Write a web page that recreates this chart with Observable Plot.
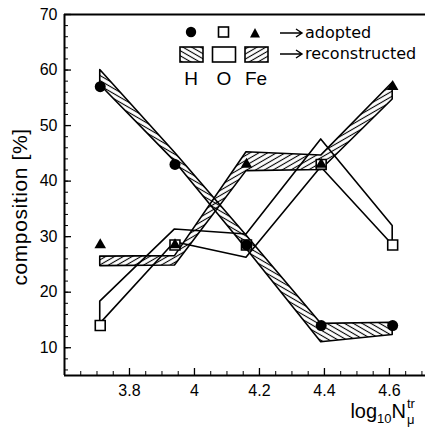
<!DOCTYPE html>
<html>
<head>
<meta charset="utf-8">
<script src="https://cdn.jsdelivr.net/npm/d3@7"></script>
<script src="https://cdn.jsdelivr.net/npm/@observablehq/plot@0.6"></script>
<style>
  body { margin: 0; background: #fff; }
  #chart { position: relative; width: 425px; height: 428px; }
  #chart > svg { position: absolute; left: 0; top: 0; }
</style>
</head>
<body>
<div id="chart"></div>
<script>
// log10 of the truncated muon number, bin centres
const lgN = [3.71, 3.94, 4.16, 4.39, 4.61];

// adopted composition [%]
const adoptedH  = [57, 43, 28.5, 14, 14];
const adoptedO  = [14, 28.5, 28.5, 43, 28.5];
const adoptedFe = [28.5, 28.5, 43, 43, 57];

// reconstructed composition [%], lower and upper edge of each band
const recHLow   = [57.3, 43.5, 27.8, 11.0, 12.3];
const recHHigh  = [60.0, 45.1, 30.2, 14.3, 14.5];
const recOLow   = [14.3, 29.0, 26.2, 42.5, 28.5];
const recOHigh  = [18.3, 31.3, 30.4, 47.5, 31.9];
const recFeLow  = [24.7, 24.8, 41.8, 42.0, 54.7];
const recFeHigh = [26.4, 26.5, 45.2, 44.6, 57.7];

// axes
const xTicks = [3.8, 4, 4.2, 4.4, 4.6];
const yTicks = [10, 20, 30, 40, 50, 60, 70];
const xDomain = [3.6, 4.711];
const yDomain = [5, 70];
const xMinor = d3.range(3.65, 4.71, 0.05).map(v => +v.toFixed(2));
const yMinor = d3.range(6, 70, 2);

const rows = lgN.map((x, i) => ({
  x,
  h: adoptedH[i], o: adoptedO[i], fe: adoptedFe[i],
  hLo: recHLow[i], hHi: recHHigh[i],
  oLo: recOLow[i], oHi: recOHigh[i],
  feLo: recFeLow[i], feHi: recFeHigh[i]
}));

const W = 425, H = 428, mL = 64, mR = 0, mT = 14, mB = 53;
const frameW = W - mL - mR, frameH = H - mT - mB;

const chart = Plot.plot({
  width: W, height: H,
  marginLeft: mL, marginRight: mR, marginTop: mT, marginBottom: mB,
  x: {domain: xDomain},
  y: {domain: yDomain},
  style: {fontFamily: "'Liberation Sans', Arial, sans-serif", fontSize: "16px", color: "#000", background: "#fff"},
  marks: [
    // reconstructed bands
    Plot.areaY(rows, {x: "x", y1: "oLo", y2: "oHi", fill: "none", stroke: "black", strokeWidth: 1.6}),
    Plot.areaY(rows, {x: "x", y1: "feLo", y2: "feHi", fill: "url(#hatch-fe)", stroke: "black", strokeWidth: 1.6}),
    Plot.areaY(rows, {x: "x", y1: "hLo", y2: "hHi", fill: "url(#hatch-h)", stroke: "black", strokeWidth: 1.6}),
    // adopted values
    Plot.dot(rows, {x: "x", y: "o", symbol: "square", r: 5.6, fill: "white", stroke: "black", strokeWidth: 1.6}),
    Plot.dot(rows, {x: "x", y: "h", r: 5.5, fill: "black", stroke: null}),
    Plot.dot(rows, {x: "x", y: "fe", symbol: "triangle", r: 4.3, fill: "black", stroke: null}),
    // frame: top, bottom and left lines
    Plot.ruleY(yDomain, {strokeWidth: 2}),
    Plot.ruleX([xDomain[0]], {strokeWidth: 2}),
    // inward tick marks
    Plot.tickX(xTicks, {x: d => d, insetTop: frameH - 7, strokeWidth: 1.3}),
    Plot.tickX(xMinor, {x: d => d, insetTop: frameH - 4, strokeWidth: 1}),
    Plot.tickY(yTicks, {y: d => d, insetRight: frameW - 7, strokeWidth: 1.3}),
    Plot.tickY(yMinor, {y: d => d, insetRight: frameW - 4, strokeWidth: 1}),
    // tick labels
    Plot.axisX({ticks: xTicks, tickSize: 0, tickPadding: 9, tickFormat: d => String(d), fontSize: 16, label: null}),
    Plot.axisY({ticks: yTicks, tickSize: 0, tickPadding: 7, fontSize: 16, label: null})
  ]
});

// hatch fills for the H and Fe bands
const defs = d3.select(chart).insert("defs", ":first-child");
function hatch(id, angle) {
  const p = defs.append("pattern")
    .attr("id", id)
    .attr("patternUnits", "userSpaceOnUse")
    .attr("width", 8).attr("height", 4.4)
    .attr("patternTransform", `rotate(${angle})`);
  p.append("line").attr("x1", 0).attr("x2", 8).attr("y1", 2.2).attr("y2", 2.2)
    .attr("stroke", "black").attr("stroke-width", 1.1);
}
hatch("hatch-h", 30);
hatch("hatch-fe", -30);

document.getElementById("chart").appendChild(chart);

// legend and axis titles
const arrow = y => `<path d="M280,${y} H302 M296,${y - 4} L302,${y} L296,${y + 4}" fill="none" stroke="black" stroke-width="1.4"/>`;
const overlay = `
<svg width="${W}" height="${H}" xmlns="http://www.w3.org/2000/svg" style="pointer-events:none">
  <g font-family="'DejaVu Sans', sans-serif" font-size="16" fill="black">
    <circle cx="191" cy="32" r="5.2" fill="black"/>
    <rect x="218.5" y="27" width="10" height="10" fill="white" stroke="black" stroke-width="1.6"/>
    <path d="M250,37.5 L260,37.5 L255,28 Z" fill="black"/>
    ${arrow(33)}
    <text x="305" y="38">adopted</text>
    <rect x="180" y="47" width="23" height="15" fill="url(#hatch-h)" stroke="black" stroke-width="1.6"/>
    <rect x="212.5" y="47" width="23" height="15" fill="none" stroke="black" stroke-width="1.6"/>
    <rect x="245" y="47" width="23" height="15" fill="url(#hatch-fe)" stroke="black" stroke-width="1.6"/>
    ${arrow(54)}
    <text x="305" y="59">reconstructed</text>
    <g font-family="'Liberation Sans', Arial, sans-serif" font-size="19" text-anchor="middle">
      <text x="191" y="85">H</text>
      <text x="224" y="85">O</text>
      <text x="256" y="85">Fe</text>
    </g>
  </g>
  <text transform="translate(27,207) rotate(-90)" text-anchor="middle" letter-spacing="0.6"
        font-family="'Liberation Sans', Arial, sans-serif" font-size="21">composition [%]</text>
  <text id="xlab" x="406" y="418" text-anchor="end" font-family="'Liberation Sans', Arial, sans-serif" font-size="20">log<tspan font-size="13" dy="5">10</tspan><tspan font-size="20" dy="-5">N</tspan></text>
  <text x="407" y="424" font-family="'Liberation Sans', Arial, sans-serif" font-size="13">μ</text>
  <text x="407" y="408" font-family="'Liberation Sans', Arial, sans-serif" font-size="13">tr</text>
</svg>`;
document.getElementById("chart").insertAdjacentHTML("beforeend", overlay);
</script>
</body>
</html>
